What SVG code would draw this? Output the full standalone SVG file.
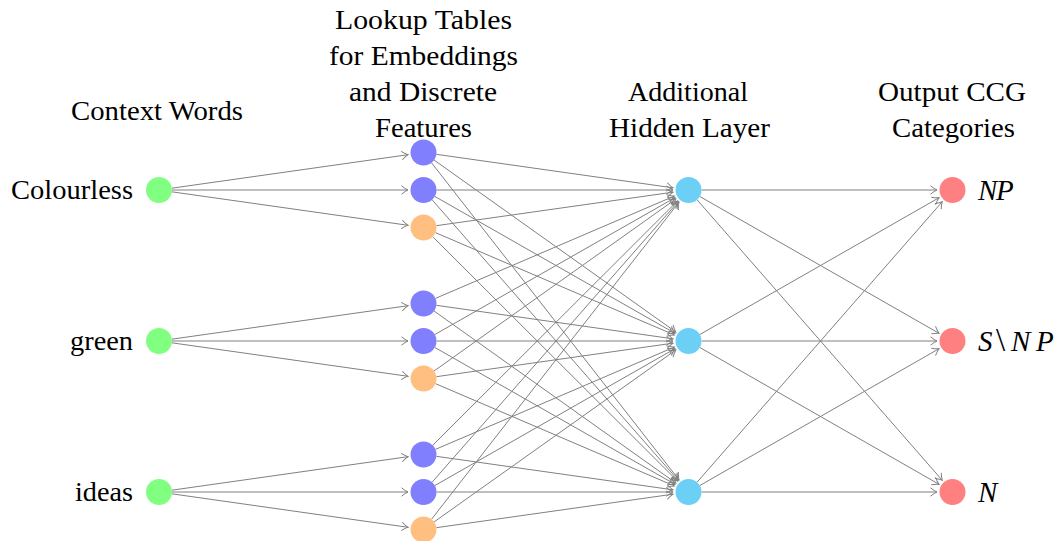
<svg xmlns="http://www.w3.org/2000/svg" width="1061" height="541" viewBox="0 0 1061 541">
<style>
text{font-family:"Liberation Serif","Times New Roman",serif;font-size:27px;fill:#000}
.m{text-anchor:middle}
.e{text-anchor:end}
.it{font-style:italic}
.math{font-size:29px}
.edges line{stroke:#808080;stroke-width:1;marker-end:url(#arr)}
.in{fill:#80ff80}.emb{fill:#8080ff}.dis{fill:#ffbf80}.hid{fill:#6ccff6}.out{fill:#ff8080}
</style>
<defs>
<marker id="arr" markerUnits="userSpaceOnUse" orient="auto" refX="0" refY="0" markerWidth="10" markerHeight="10" overflow="visible">
<path d="M-6.5,-4.2 Q-2.5,-1 0,0 Q-2.5,1 -6.5,4.2" fill="none" stroke="#808080" stroke-width="1"/>
</marker>
</defs>
<rect width="1061" height="541" fill="#fff"/>
<g id="headers">
<text class="m" x="157" y="120" textLength="172" lengthAdjust="spacingAndGlyphs">Context Words</text>
<text class="m" x="423.5" y="29" textLength="177" lengthAdjust="spacingAndGlyphs">Lookup Tables</text>
<text class="m" x="423.5" y="65" textLength="189" lengthAdjust="spacingAndGlyphs">for Embeddings</text>
<text class="m" x="423" y="101" textLength="148" lengthAdjust="spacingAndGlyphs">and Discrete</text>
<text class="m" x="423.5" y="137" textLength="97" lengthAdjust="spacingAndGlyphs">Features</text>
<text class="m" x="688" y="101" textLength="120" lengthAdjust="spacingAndGlyphs">Additional</text>
<text class="m" x="689.5" y="137" textLength="161" lengthAdjust="spacingAndGlyphs">Hidden Layer</text>
<text class="m" x="952" y="101" textLength="148" lengthAdjust="spacingAndGlyphs">Output CCG</text>
<text class="m" x="953.5" y="137" textLength="123" lengthAdjust="spacingAndGlyphs">Categories</text>
</g>
<g class="edges" id="connectors">
<line x1="171.87" y1="188.18" x2="408.15" y2="154.68"/>
<line x1="172" y1="190" x2="408" y2="190"/>
<line x1="171.87" y1="191.82" x2="408.15" y2="225.32"/>
<line x1="171.87" y1="339.18" x2="408.15" y2="305.68"/>
<line x1="172" y1="341" x2="408" y2="341"/>
<line x1="171.87" y1="342.82" x2="408.15" y2="376.32"/>
<line x1="171.87" y1="490.18" x2="408.15" y2="456.68"/>
<line x1="172" y1="492" x2="408" y2="492"/>
<line x1="171.87" y1="493.82" x2="408.15" y2="527.32"/>

<line x1="436.37" y1="154.32" x2="673.15" y2="187.83"/>
<line x1="436.5" y1="190" x2="673" y2="190"/>
<line x1="436.37" y1="225.68" x2="673.15" y2="192.17"/>
<line x1="435.45" y1="298.38" x2="674.25" y2="196.10"/>
<line x1="434.8" y1="334.56" x2="675.03" y2="197.67"/>
<line x1="434.09" y1="370.96" x2="675.87" y2="198.98"/>
<line x1="432.7" y1="445.32" x2="677.53" y2="200.95"/>
<line x1="432.07" y1="482.23" x2="678.28" y2="201.65"/>
<line x1="431.5" y1="519.25" x2="678.96" y2="202.22"/>

<line x1="434.09" y1="160.04" x2="675.87" y2="332.02"/>
<line x1="434.8" y1="196.44" x2="675.03" y2="333.33"/>
<line x1="435.45" y1="232.62" x2="674.25" y2="334.9"/>
<line x1="436.37" y1="305.32" x2="673.15" y2="338.83"/>
<line x1="436.5" y1="341" x2="673" y2="341"/>
<line x1="436.37" y1="376.68" x2="673.15" y2="343.17"/>
<line x1="435.45" y1="449.38" x2="674.25" y2="347.1"/>
<line x1="434.8" y1="485.56" x2="675.03" y2="348.67"/>
<line x1="434.09" y1="521.96" x2="675.87" y2="349.98"/>

<line x1="431.5" y1="162.75" x2="678.96" y2="479.78"/>
<line x1="432.07" y1="199.77" x2="678.28" y2="480.35"/>
<line x1="432.7" y1="236.68" x2="677.53" y2="481.05"/>
<line x1="434.09" y1="311.04" x2="675.87" y2="483.02"/>
<line x1="434.8" y1="347.44" x2="675.03" y2="484.33"/>
<line x1="435.45" y1="383.62" x2="674.25" y2="485.9"/>
<line x1="436.37" y1="456.32" x2="673.15" y2="489.83"/>
<line x1="436.5" y1="492" x2="673" y2="492"/>
<line x1="436.37" y1="527.68" x2="673.15" y2="494.17"/>

<line x1="701.5" y1="190" x2="937" y2="190"/>
<line x1="699.78" y1="196.45" x2="939.05" y2="333.3"/>
<line x1="697.06" y1="199.79" x2="942.3" y2="480.33"/>
<line x1="699.78" y1="334.55" x2="939.05" y2="197.7"/>
<line x1="701.5" y1="341" x2="937" y2="341"/>
<line x1="699.78" y1="347.45" x2="939.05" y2="484.3"/>
<line x1="697.06" y1="482.21" x2="942.3" y2="201.67"/>
<line x1="699.78" y1="485.55" x2="939.05" y2="348.7"/>
<line x1="701.5" y1="492" x2="937" y2="492"/>
</g>
<g id="in1"><circle class="in" cx="159" cy="190" r="13"/><text class="e" x="133" y="199" textLength="122" lengthAdjust="spacingAndGlyphs">Colourless</text></g>
<g id="in2"><circle class="in" cx="159" cy="341" r="13"/><text class="e" x="133" y="350" textLength="63" lengthAdjust="spacingAndGlyphs">green</text></g>
<g id="in3"><circle class="in" cx="159" cy="492" r="13"/><text class="e" x="133" y="501" textLength="58" lengthAdjust="spacingAndGlyphs">ideas</text></g>
<g id="m1"><circle class="emb" cx="423.5" cy="152.5" r="13"/></g>
<g id="m2"><circle class="emb" cx="423.5" cy="190" r="13"/></g>
<g id="m3"><circle class="dis" cx="423.5" cy="227.5" r="13"/></g>
<g id="m4"><circle class="emb" cx="423.5" cy="303.5" r="13"/></g>
<g id="m5"><circle class="emb" cx="423.5" cy="341" r="13"/></g>
<g id="m6"><circle class="dis" cx="423.5" cy="378.5" r="13"/></g>
<g id="m7"><circle class="emb" cx="423.5" cy="454.5" r="13"/></g>
<g id="m8"><circle class="emb" cx="423.5" cy="492" r="13"/></g>
<g id="m9"><circle class="dis" cx="423.5" cy="529.5" r="13"/></g>
<g id="h1"><circle class="hid" cx="688.5" cy="190" r="13"/></g>
<g id="h2"><circle class="hid" cx="688.5" cy="341" r="13"/></g>
<g id="h3"><circle class="hid" cx="688.5" cy="492" r="13"/></g>
<g id="o1"><circle class="out" cx="952.5" cy="190" r="13"/><text class="math" y="200"><tspan class="it" x="978">N</tspan><tspan class="it" x="996">P</tspan></text></g>
<g id="o2"><circle class="out" cx="952.5" cy="341" r="13"/><text class="math" y="351"><tspan class="it" x="978">S</tspan><tspan x="996" font-size="33">\</tspan><tspan class="it" x="1011">N</tspan><tspan class="it" x="1036">P</tspan></text></g>
<g id="o3"><circle class="out" cx="952.5" cy="492" r="13"/><text class="math it" x="978" y="502">N</text></g>
</svg>
